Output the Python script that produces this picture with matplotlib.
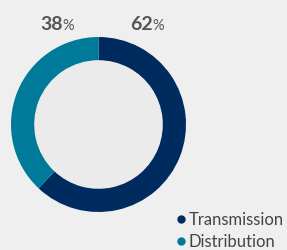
import matplotlib
matplotlib.use("Agg")
import matplotlib.pyplot as plt
from matplotlib.lines import Line2D

# ── Data ───────────────────────────────────────────────────────────────────
labels = ["Transmission", "Distribution"]
shares = [62, 38]
colors = ["#002b5e", "#007a99"]

BG = "#efefef"
INNER = "#ebebeb"
TEXT = "#555555"

plt.rcParams["font.family"] = ["Lato", "DejaVu Sans"]

fig = plt.figure(figsize=(2.87, 2.5), dpi=100, facecolor=BG)
ax = fig.add_axes([11 / 287, 38 / 250, 175 / 287, 175 / 250])
ax.set_facecolor(BG)

ax.pie(shares, colors=colors, startangle=90, counterclock=False,
       radius=1.0, wedgeprops=dict(width=0.265, linewidth=0))
ax.add_patch(plt.Circle((0, 0), 0.735, color=INNER, zorder=0))
ax.set_xlim(-1, 1)
ax.set_ylim(-1, 1)
ax.set_aspect("equal")
ax.axis("off")

# percentage labels above the ring
label_x = {"Transmission": 0.62, "Distribution": -0.41}
for lab, val in zip(labels, shares):
    x = label_x[lab]
    ax.text(x, 1.14, f"{val}", ha="right", va="center", fontsize=14,
            fontweight="bold", color=TEXT, clip_on=False)
    ax.text(x - 0.005, 1.125, "%", ha="left", va="center", fontsize=10.5,
            color=TEXT, clip_on=False)

handles = [Line2D([], [], marker="o", linestyle="", markersize=5,
                  markerfacecolor=c, markeredgecolor=c) for c in colors]
fig.legend(handles, labels, loc="lower right", bbox_to_anchor=(1.03, -0.045),
           frameon=False, fontsize=12, labelcolor="#444444",
           handletextpad=0.05, handlelength=0.8, labelspacing=0.35,
           borderpad=0.2)

fig.savefig("out.png", dpi=100, facecolor=BG)
